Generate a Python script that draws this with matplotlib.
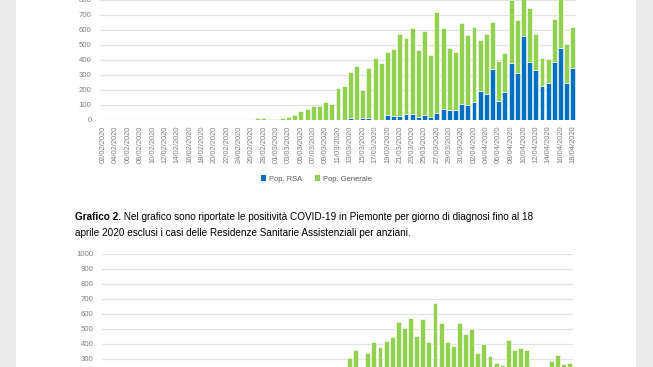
import numpy as np
import pandas as pd
import matplotlib
matplotlib.use('Agg')
from matplotlib import pyplot as plt
from matplotlib.patches import Rectangle, Patch

# giorni dal 02/02/2020 al 18/04/2020
giorni = pd.date_range('2020-02-02', '2020-04-18', freq='D')
etichette = [d.strftime('%d/%m/%Y') for d in giorni]

# positivi RSA (blu) per giorno di diagnosi
pop_rsa = [0] * 40 + [
    12, 0, 10, 10, 0, 0, 32, 24, 24, 37, 37, 14, 28, 17, 41, 72, 63, 63, 101,
    97, 115, 192, 170, 334, 121, 183, 375, 308, 559, 381, 328, 225, 245, 385, 477, 243, 346]

# positivi popolazione generale (verde), esclusi i casi RSA
pop_generale = [0] * 25 + [
    10, 12, 3, 2, 10, 17, 30, 56, 73, 89, 89, 115, 105, 209, 221,
    306, 356, 189, 336, 410, 378, 418, 444, 548, 508, 573, 452, 564, 410, 675, 538, 415, 385, 540,
    465, 502, 338, 401, 319, 270, 261, 425, 356, 372, 360, 240, 185, 158, 286, 323, 263, 272]

legenda = ['Pop. RSA', 'Pop. Generale']
didascalia_bold = 'Grafico 2.'
didascalia_1 = ' Nel grafico sono riportate le positività COVID-19 in Piemonte per giorno di diagnosi fino al 18'
didascalia_2 = 'aprile 2020 esclusi i casi delle Residenze Sanitarie Assistenziali per anziani.'

BLU = '#0070c0'
VERDE = '#92d050'
GRIGIO = '#7f7f7f'
W, H = 653, 367

plt.rcParams['font.family'] = ['Liberation Sans', 'DejaVu Sans']

fig = plt.figure(figsize=(W / 100, H / 100), dpi=100)
fig.patch.set_facecolor('#ebebeb')
# pagina bianca del documento
fig.add_artist(Rectangle((16 / W, 0), (636 - 16) / W, 1, transform=fig.transFigure,
                         facecolor='white', edgecolor='none', zorder=0))


def px_axes(left, right, y0, y1000):
    # posizione in pixel: y0 = riga del valore 0, y1000 = riga del valore 1000
    return fig.add_axes([left / W, (H - y0) / H, (right - left) / W, (y0 - y1000) / H])


def stile(ax, ymax_label, xlabels=True):
    ax.set_facecolor('none')
    ax.set_ylim(0, 1000)
    ax.set_xlim(-0.5, len(giorni) - 0.5)
    # griglia su tutti i 100, etichette solo dove visibili nella pagina
    ax.set_yticks(np.arange(0, 1001, 100), minor=True)
    ax.set_yticks(np.arange(0, ymax_label + 1, 100))
    ax.grid(axis='y', which='both', color='#e3e3e3', linewidth=0.9)
    ax.set_axisbelow(True)
    for s in ax.spines.values():
        s.set_visible(False)
    ax.tick_params(axis='y', which='both', length=0, pad=6, labelsize=5.6, labelcolor=GRIGIO)
    ax.tick_params(axis='x', length=0, pad=4.5, labelsize=5.4, labelcolor=GRIGIO)
    ax.set_xticks(range(0, len(giorni), 2))
    if xlabels:
        ax.set_xticklabels(etichette[::2], rotation=90)
    else:
        ax.set_xticklabels([])


x = np.arange(len(giorni))
rsa = np.array(pop_rsa)
gen = np.array(pop_generale)

# Grafico 1: barre impilate RSA + generale
ax1 = px_axes(100, 576, 119.5, -30.5)
stile(ax1, 800)
ax1.bar(x, rsa, width=0.8, color=BLU, edgecolor='white', linewidth=0.4)
ax1.bar(x, gen, bottom=rsa, width=0.8, color=VERDE, edgecolor='white', linewidth=0.4)

handles = [Patch(facecolor=BLU), Patch(facecolor=VERDE)]
fig.legend(handles, legenda, loc='center', bbox_to_anchor=(316.5 / W, (H - 179) / H),
           ncol=2, frameon=False, fontsize=5.4, labelcolor='#595959',
           handlelength=0.7, handleheight=0.7, handletextpad=0.4, columnspacing=1.6)

# didascalia
t1 = fig.text(75 / W, (H - 220) / H, didascalia_bold, fontsize=7.2, fontweight='bold',
              color='black', va='baseline')
ax1.annotate(didascalia_1, xy=(1, 0), xycoords=t1, fontsize=7.2, color='black',
             va='bottom', ha='left', annotation_clip=False)
fig.text(75 / W, (H - 235.6) / H, didascalia_2, fontsize=7.2, color='black', va='baseline')

# Grafico 2: solo popolazione generale
ax2 = px_axes(102, 572.5, 403.6, 254)
stile(ax2, 1000, xlabels=False)
ax2.bar(x, gen, width=0.8, color=VERDE, edgecolor='white', linewidth=0.4)

fig.savefig('out.png', dpi=100, facecolor=fig.get_facecolor())
